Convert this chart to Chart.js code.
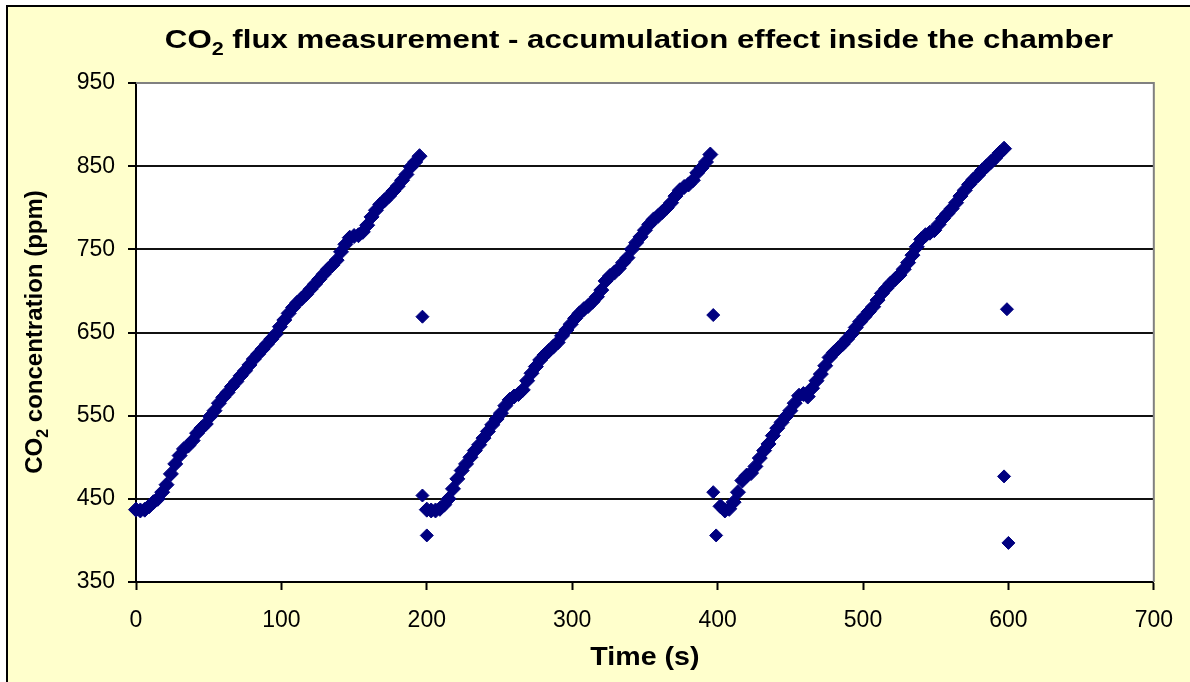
<!DOCTYPE html>
<html><head><meta charset="utf-8">
<script src="https://cdn.jsdelivr.net/npm/chart.js@4"></script>
<style>html,body{margin:0;padding:0;background:#fff;overflow:hidden}#wrap{position:absolute;left:0;top:0;width:1190px;height:682px}</style>
</head><body><div id="wrap"><canvas id="c" width="1190" height="682" style="width:1190px;height:682px"></canvas></div>
<script>
// ---- data ----
const cycle1Time = [0,3,6,9,12,15,18,21,24,27,30,33,36,39,42,45,48,51,54,57,60,63,66,69,72,75,78,81,84,87,90,93,96,99,102,105,108,111,114,117,120,123,126,129,132,135,138,141,144,147,150,153,156,159,162,165,168,171,174,177,180,183,186,189,192,195];
const cycle1CO2 = [437,436,437,441,446,450,458,467,480,492,502,510,514,520,529,535,540,549,556,565,572,578,585,591,598,604,611,618,624,630,636,642,648,657,665,673,680,686,691,696,702,708,714,720,726,731,737,747,756,764,766,767,771,779,789,797,804,809,814,820,826,833,840,849,855,862];
const cycle2Time = [200,203,206,209,212,215,218,221,224,227,230,233,236,239,242,245,248,251,254,257,260,263,266,269,272,275,278,281,284,287,290,293,296,299,302,305,308,311,314,317,320,323,326,329,332,335,338,341,344,347,350,353,356,359,362,365,368,371,374,377,380,383,386,389,392,395];
const cycle2CO2 = [437,436,436,438,443,450,462,474,484,492,500,508,515,523,531,539,546,553,562,569,573,576,581,592,601,609,617,623,628,633,638,646,653,660,667,673,678,682,687,693,701,712,718,722,727,734,740,750,758,765,773,780,786,790,795,800,806,814,821,825,828,833,842,848,855,864];
const cycle3Time = [402,405,408,411,414,417,420,423,426,429,432,435,438,441,444,447,450,453,456,459,462,465,468,471,474,477,480,483,486,489,492,495,498,501,504,507,510,513,516,519,522,525,528,531,534,537,540,543,546,549,552,555,558,561,564,567,570,573,576,579,582,585,588,591,594,597];
const cycle3CO2 = [441,436,438,446,458,472,478,481,489,499,508,516,526,535,542,549,556,565,574,576,573,583,592,600,610,620,626,631,636,642,648,656,663,669,675,681,689,697,703,709,714,719,726,734,743,753,762,767,770,773,780,787,793,799,806,814,821,828,834,839,845,850,855,860,866,871];
const outlierTime = [197,197,200,397,397,399,599,597,600];
const outlierCO2 = [669,454,406,671,458,406,678,477,397];
const xTicks = [0,100,200,300,400,500,600,700];
const yTicks = [350,450,550,650,750,850,950];
const titleParts = ['CO','2',' flux measurement - accumulation effect inside the chamber'];
const yTitleParts = ['CO','2',' concentration (ppm)'];
const xTitle = 'Time (s)';

const FONT = '"Liberation Sans", Arial, sans-serif';
const NAVY = '#000080';

function toPoints(ts, vs){ return ts.map((t,i)=>({x:t,y:vs[i]})); }

function drawSubText(ctx, parts, cx, cy, size, sx){
  const big = 'bold '+size+'px '+FONT, small = 'bold '+Math.round(size*0.68)+'px '+FONT;
  ctx.font = big; const w0 = ctx.measureText(parts[0]).width, w2 = ctx.measureText(parts[2]).width;
  ctx.font = small; const w1 = ctx.measureText(parts[1]).width;
  ctx.save();
  ctx.translate(cx, cy); ctx.scale(sx, 1);
  let x = -(w0+w1+w2)/2;
  ctx.fillStyle = '#000'; ctx.textBaseline = 'alphabetic'; ctx.textAlign = 'left';
  ctx.font = big; ctx.fillText(parts[0], x, 0); x += w0;
  ctx.font = small; ctx.fillText(parts[1], x, size*0.25); x += w1;
  ctx.font = big; ctx.fillText(parts[2], x, 0);
  ctx.restore();
}

const framePlugin = {
  id:'frame',
  beforeDraw(chart){
    const ctx = chart.ctx, a = chart.chartArea;
    ctx.save();
    ctx.fillStyle = '#fff'; ctx.fillRect(0,0,1190,682);
    ctx.fillStyle = '#FFFFCC'; ctx.fillRect(6,5,1184,677);
    ctx.fillStyle = '#000'; ctx.fillRect(6,5,2,677); ctx.fillRect(6,5,1184,2);
    ctx.fillStyle = '#fff'; ctx.fillRect(a.left,a.top,a.right-a.left,a.bottom-a.top);
    ctx.restore();
  },
  beforeDatasetsDraw(chart){
    const ctx = chart.ctx, a = chart.chartArea;
    ctx.save(); ctx.strokeStyle = '#808080'; ctx.lineWidth = 2;
    ctx.beginPath(); ctx.moveTo(a.left, a.top); ctx.lineTo(a.right, a.top); ctx.lineTo(a.right, a.bottom); ctx.stroke();
    ctx.restore();
  },
  afterDraw(chart){
    const ctx = chart.ctx, a = chart.chartArea;
    ctx.save();
    drawSubText(ctx, titleParts, 639, 48, 26, 1.2);
    // x axis title
    ctx.save();
    ctx.translate((a.left+a.right)/2, 665); ctx.scale(1.1, 1);
    ctx.font = 'bold 26px '+FONT; ctx.fillStyle = '#000'; ctx.textAlign = 'center'; ctx.textBaseline = 'alphabetic';
    ctx.fillText(xTitle, 0, 0);
    ctx.restore();
    // y axis title
    ctx.translate(42, 332); ctx.rotate(-Math.PI/2);
    drawSubText(ctx, yTitleParts, 0, 0, 24, 1);
    ctx.restore();
  }
};

const ds = (pts, r)=>({data:pts, pointStyle:'rectRot', pointRadius:r, pointHoverRadius:r, pointBorderWidth:1,
  backgroundColor:NAVY, borderColor:NAVY, showLine:false, clip:false});

new Chart(document.getElementById('c'), {
  type:'scatter',
  data:{datasets:[
    ds(toPoints(cycle1Time, cycle1CO2), 7.5),
    ds(toPoints(cycle2Time, cycle2CO2), 7.5),
    ds(toPoints(cycle3Time, cycle3CO2), 7.5),
    ds(toPoints(outlierTime, outlierCO2), 6.5)
  ]},
  options:{
    responsive:false, animation:false, devicePixelRatio:1,
    layout:{padding:{left:0, top:83, right:36, bottom:0}},
    plugins:{legend:{display:false}, tooltip:{enabled:false}, title:{display:false}},
    scales:{
      x:{type:'linear', min:xTicks[0], max:xTicks[xTicks.length-1],
        afterBuildTicks(s){ s.ticks = xTicks.map(v=>({value:v})); },
        ticks:{color:'#000', font:{family:FONT, size:23}, padding:17, maxRotation:0, autoSkip:false},
        grid:{drawOnChartArea:false, drawTicks:true, tickLength:8, tickColor:'#000', tickWidth:2},
        border:{display:true, color:'#000', width:2},
        title:{display:false},
        afterFit(s){ s.height = 100; }
      },
      y:{type:'linear', min:yTicks[0], max:yTicks[yTicks.length-1],
        afterBuildTicks(s){ s.ticks = yTicks.map(v=>({value:v})); },
        ticks:{color:'#000', font:{family:FONT, size:23}, padding:13, autoSkip:false},
        grid:{color:(c)=> (c.tick && c.tick.value===950) ? '#808080' : '#111', lineWidth:2, tickLength:8, tickColor:'#000', tickWidth:2},
        border:{display:true, color:'#000', width:2},
        afterFit(s){ s.width = 136; }
      }
    }
  },
  plugins:[framePlugin]
});
</script></body></html>
